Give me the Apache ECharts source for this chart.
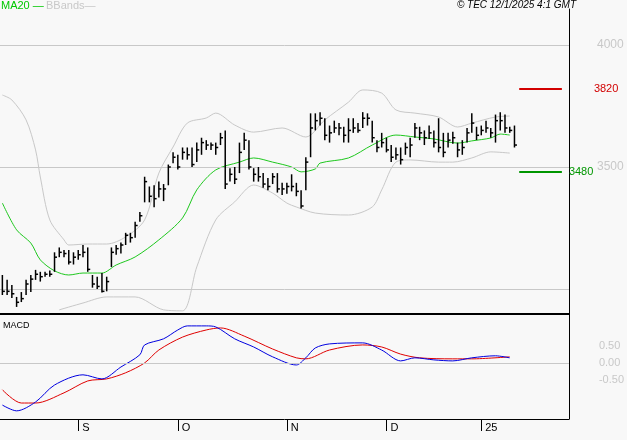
<!DOCTYPE html>
<html>
<head>
<meta charset="utf-8">
<script src="https://cdn.jsdelivr.net/npm/echarts@6/dist/echarts.min.js"></script>
<style>
  html, body { margin: 0; padding: 0; background: #f8f8f8; }
  #chart { width: 627px; height: 440px; }
</style>
</head>
<body>
<div id="chart"></div>
<script>
// bar data (high / low / close)
const highs = [3057,3037,3016,2967,2987,3037,3057,3078,3070,3070,3075,3150,3170,3160,3160,3150,3160,3180,3170,3057,
  3050,3065,3050,3170,3180,3190,3230,3230,3275,3315,3460,3420,3425,3440,3430,3510,3560,3550,3580,3580,
  3580,3600,3620,3610,3600,3600,3640,3650,3495,3500,3600,3640,3610,3495,3500,3475,3455,3475,3475,3435,
  3435,3470,3435,3405,3540,3720,3720,3725,3700,3670,3690,3680,3665,3700,3700,3680,3725,3720,3690,3610,
  3640,3620,3590,3580,3580,3600,3620,3680,3665,3650,3670,3650,3700,3640,3640,3645,3600,3610,3660,3720,
  3665,3670,3690,3660,3715,3725,3715,3665,3670]
const lows = [2975,2975,2963,2926,2946,2975,2987,3037,3030,3050,3050,3070,3130,3130,3100,3100,3120,3130,3070,3005,
  3000,2985,2990,3090,3140,3145,3180,3190,3210,3275,3355,3355,3335,3375,3360,3425,3515,3490,3530,3530,
  3500,3520,3550,3570,3570,3550,3590,3410,3440,3430,3475,3570,3490,3440,3440,3415,3405,3430,3395,3385,
  3390,3400,3380,3330,3405,3540,3650,3670,3610,3600,3640,3630,3600,3600,3640,3640,3660,3670,3600,3560,
  3580,3560,3520,3530,3510,3550,3540,3620,3610,3590,3615,3580,3560,3540,3580,3595,3540,3550,3600,3640,
  3610,3630,3640,3620,3600,3650,3640,3640,3580]
const closes = [2990,2990,2980,2945,2960,3020,3040,3060,3050,3060,3060,3130,3150,3145,3110,3130,3140,3150,3080,3020,
  3010,2990,3030,3150,3165,3180,3220,3210,3260,3300,3440,3380,3370,3410,3410,3500,3540,3500,3560,3550,
  3510,3570,3600,3590,3590,3580,3620,3430,3470,3450,3560,3610,3500,3470,3460,3430,3420,3460,3410,3410,
  3420,3420,3400,3340,3520,3660,3690,3700,3630,3640,3660,3660,3630,3650,3660,3650,3700,3700,3620,3580,
  3600,3570,3540,3550,3530,3580,3590,3660,3640,3620,3640,3600,3580,3560,3610,3620,3570,3580,3640,3680,
  3630,3650,3660,3640,3690,3690,3660,3650,3590]

// indicator lines, sampled at [bar index, value]
const ma20 = [[0,3352],[3,3242],[6,3188],[8,3119],[10.5,3074],[14,3057],[17,3065],[21,3065],[24,3098],[28,3131],
  [33,3201],[37.5,3291],[41,3406],[45,3488],[49.5,3520],[53,3537],[57,3520],[60.5,3500],[63,3480],[66,3492],
  [67,3516],[72.6,3537],[77.5,3590],[82.5,3631],[86.7,3623],[91,3615],[96,3598],[99,3607],[103,3619],[105,3635],[107,3631]]
const bbUpper = [[0,3795],[2,3775],[4.6,3693],[7,3570],[8,3459],[10,3283],[13,3201],[14,3180],[18,3184],[22,3184],
  [25.6,3213],[30,3283],[33,3475],[35.5,3582],[39,3680],[42.5,3701],[45,3721],[49,3672],[53,3643],[58.6,3660],
  [63.5,3623],[68,3693],[72.6,3766],[76.4,3816],[79.6,3803],[82.5,3734],[87.4,3721],[92,3705],[96,3664],
  [99.4,3680],[103.6,3705],[107,3709]]
const bbLower = [[12,2914],[16.5,2942],[22,2967],[28,2967],[34,2914],[37.5,2910],[41,3090],[45,3283],[49,3357],
  [53,3426],[57,3393],[60,3352],[62,3336],[66.3,3311],[72.6,3303],[77.5,3336],[80.4,3406],[83,3520],[86,3529],
  [91.6,3520],[95,3520],[98.5,3537],[103,3562],[107,3557]]
const macdLine = [[0,-1.24],[2.8,-1.41],[6.6,-1.15],[11,-0.65],[16.6,-0.35],[21,-0.47],[25,-0.12],[28.8,0.24],
  [30,0.53],[33.5,0.71],[36.5,0.97],[38.7,1.09],[43,1.09],[45,1.06],[48.7,0.71],[52.6,0.47],[57,0.18],[62,-0.06],
  [64,0.15],[66.3,0.44],[69.4,0.56],[76,0.59],[80,0.38],[84,0.06],[87,0.15],[90.8,0.09],[95,0.06],[98.5,0.15],
  [103.8,0.21],[107,0.15]]
const signalLine = [[0,-0.79],[3.5,-1.18],[7.4,-1.18],[12.7,-0.88],[18,-0.53],[22,-0.47],[25.7,-0.29],[29.5,0],
  [33.4,0.38],[38,0.76],[42.6,0.97],[45.6,1.03],[51,0.79],[57,0.41],[61.7,0.15],[64,0.12],[69.4,0.38],[75.5,0.53],
  [80,0.47],[84,0.26],[87.8,0.15],[94.7,0.12],[98.5,0.12],[107,0.18]]

const resistance = 3820
const support = 3480
const priceTicks = [3500, 4000]
const priceGrid = [3000, 3500, 4000]
const macdTicks = [0.5, 0, -0.5]

// trading days (weekdays, market holidays skipped), plus empty room on the right
const holidays = ['2024-12-25', '2024-12-26', '2025-01-01']
const dates = []
let d = new Date(Date.UTC(2024, 7, 9))
while (dates.length < 120) {
  const s = d.toISOString().slice(0, 10)
  if (d.getUTCDay() % 6 !== 0 && !holidays.includes(s)) dates.push(s)
  d = new Date(d.getTime() + 86400000)
}
const monthLetters = 'JFMAMJJASOND'
const isMonthStart = i => i > 0 && dates[i].slice(5, 7) !== dates[i - 1].slice(5, 7)
const monthLabel = s => {
  const m = +s.slice(5, 7)
  return m === 1 ? s.slice(2, 4) : monthLetters[m - 1]
}

const chart = echarts.init(document.getElementById('chart'))
const gray = '#c8c8c8'
const font = 'Liberation Sans, Arial, sans-serif'

const renderBar = (params, api) => {
  const i = api.value(0)
  const top = api.coord([i, api.value(1)])
  const bot = api.coord([i, api.value(2)])
  const cl = api.coord([i, api.value(3)])
  const style = { stroke: '#000', lineWidth: 1.5 }
  return {
    type: 'group',
    children: [
      { type: 'line', shape: { x1: top[0], y1: top[1], x2: bot[0], y2: bot[1] }, style },
      { type: 'line', shape: { x1: cl[0], y1: cl[1], x2: cl[0] + 2.5, y2: cl[1] }, style }
    ]
  }
}

const levelLine = (value, color, dist) => ({
  silent: true, symbol: 'none',
  lineStyle: { color, width: 2, type: 'solid' },
  label: { show: true, position: 'end', distance: dist, color, fontSize: 11, fontFamily: font, formatter: String(value) },
  data: [[{ coord: [109, value] }, { coord: [117.5, value] }]]
})

chart.setOption({
  backgroundColor: '#f8f8f8',
  animation: false,
  grid: [
    { left: 0, right: 58, top: 9, height: 305 },
    { left: 0, right: 58, top: 314, height: 105 }
  ],
  xAxis: [
    { gridIndex: 0, type: 'category', data: dates, axisLabel: { show: false }, axisTick: { show: false },
      axisLine: { show: true, lineStyle: { color: '#000', width: 2 } } },
    { gridIndex: 1, type: 'category', data: dates, position: 'bottom',
      axisLine: { show: true, onZero: false, lineStyle: { color: '#000', width: 1 } },
      axisTick: { show: true, alignWithLabel: true, length: 12, interval: i => isMonthStart(i),
        lineStyle: { color: '#000', width: 1 } },
      axisLabel: { interval: i => isMonthStart(i), formatter: monthLabel, align: 'left', margin: 3,
        padding: [0, 0, 0, 4], color: '#000', fontSize: 11, fontFamily: font } }
  ],
  yAxis: [
    { gridIndex: 0, type: 'value', position: 'right', min: 2897, max: 4148, splitLine: { show: false },
      axisLine: { show: true, lineStyle: { color: '#000' } }, axisTick: { show: false },
      axisLabel: { customValues: priceTicks, formatter: v => String(v), color: gray, fontSize: 12,
        fontFamily: font, margin: 28, padding: [8, 0, 0, 0] } },
    { gridIndex: 1, type: 'value', position: 'right', min: -1.65, max: 1.44, splitLine: { show: false },
      axisLine: { show: true, lineStyle: { color: '#000' } }, axisTick: { show: false },
      axisLabel: { customValues: macdTicks, formatter: v => v.toFixed(2), color: gray, fontSize: 11,
        fontFamily: font, margin: 30, padding: [8, 0, 0, 0] } }
  ],
  series: [
    { type: 'line', xAxisIndex: 0, yAxisIndex: 0, data: [], silent: true,
      markLine: { silent: true, symbol: 'none', label: { show: false },
        lineStyle: { color: gray, width: 1, type: 'solid' }, data: priceGrid.map(v => ({ yAxis: v })) } },
    { type: 'line', xAxisIndex: 0, yAxisIndex: 0, data: bbUpper, smooth: 0.3, symbol: 'none',
      lineStyle: { color: gray, width: 1 } },
    { type: 'line', xAxisIndex: 0, yAxisIndex: 0, data: bbLower, smooth: 0.3, symbol: 'none',
      lineStyle: { color: gray, width: 1 } },
    { type: 'line', xAxisIndex: 0, yAxisIndex: 0, data: ma20, smooth: 0.3, symbol: 'none',
      lineStyle: { color: '#1ec81e', width: 1 } },
    { type: 'custom', xAxisIndex: 0, yAxisIndex: 0, renderItem: renderBar,
      data: closes.map((c, i) => [i, highs[i], lows[i], c]), z: 5 },
    { type: 'line', xAxisIndex: 0, yAxisIndex: 0, data: [], markLine: levelLine(resistance, '#d20000', 32) },
    { type: 'line', xAxisIndex: 0, yAxisIndex: 0, data: [], markLine: levelLine(support, '#009600', 7) },
    { type: 'line', xAxisIndex: 1, yAxisIndex: 1, data: [], silent: true,
      markLine: { silent: true, symbol: 'none', label: { show: false },
        lineStyle: { color: gray, width: 1, type: 'solid' }, data: [{ yAxis: 0 }] } },
    { type: 'line', xAxisIndex: 1, yAxisIndex: 1, data: signalLine, smooth: 0.3, symbol: 'none',
      lineStyle: { color: '#e00000', width: 1 } },
    { type: 'line', xAxisIndex: 1, yAxisIndex: 1, data: macdLine, smooth: 0.3, symbol: 'none',
      lineStyle: { color: '#0000e0', width: 1 } }
  ],
  graphic: [
    { type: 'text', left: 1, top: 0, style: { text: 'MA20 —', fill: '#00c800', fontSize: 11, fontFamily: font } },
    { type: 'text', left: 46, top: 0, style: { text: 'BBands—', fill: gray, fontSize: 11, fontFamily: font } },
    { type: 'text', right: 51, top: 0, style: { text: '© TEC 12/1/2025 4:1 GMT', fill: '#000',
      fontSize: 10, fontStyle: 'italic', fontFamily: font } },
    { type: 'text', left: 3, top: 321, style: { text: 'MACD', fill: '#000', fontSize: 9, fontFamily: font } }
  ]
})
</script>
</body>
</html>
